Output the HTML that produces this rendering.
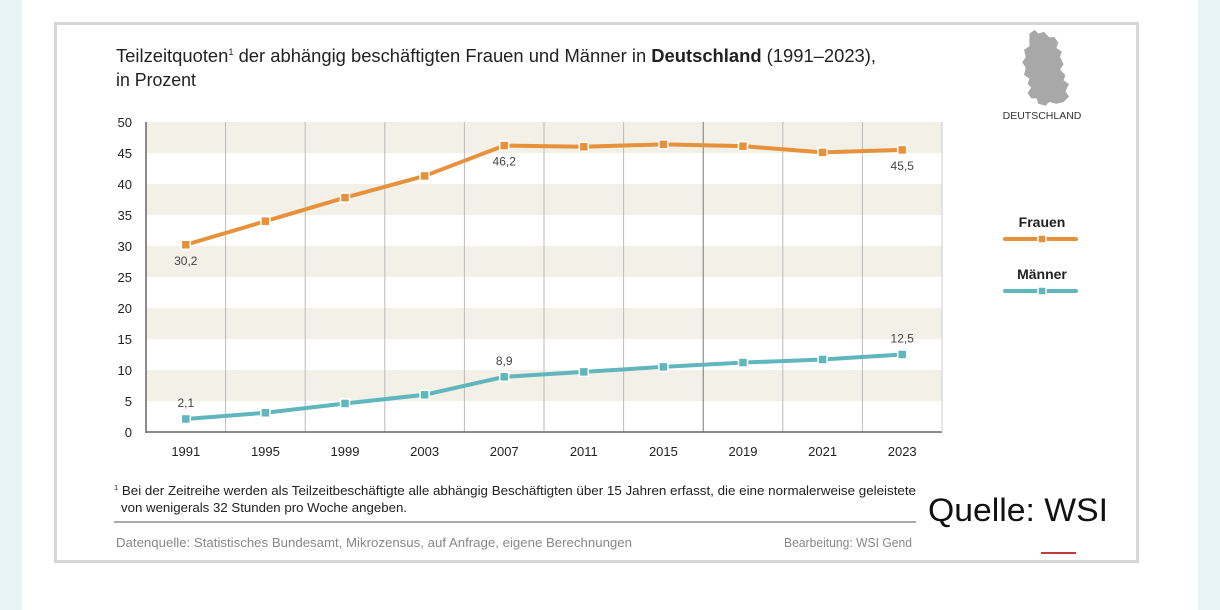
<!DOCTYPE html>
<html><head><meta charset="utf-8"><style>
html,body{margin:0;padding:0;width:1220px;height:610px;overflow:hidden;background:#fff}
svg{display:block;font-family:"Liberation Sans Narrow","Liberation Sans",sans-serif}
</style></head><body>
<svg id="c" width="1220" height="610" viewBox="0 0 1220 610">
<rect x="0" y="0" width="22" height="610" fill="#e8f3f5"/>
<rect x="1198" y="0" width="22" height="610" fill="#e8f3f5"/>
<rect x="55.5" y="23.5" width="1082" height="538" fill="#fff" stroke="#d6d6d6" stroke-width="3"/>
<text x="116" y="62" font-size="18" fill="#222" textLength="760" lengthAdjust="spacingAndGlyphs">Teilzeitquoten<tspan font-size="9" dy="-7">1</tspan><tspan dy="7"> der abhängig beschäftigten Frauen und Männer in </tspan><tspan font-weight="bold">Deutschland</tspan> (1991–2023),</text>
<text x="116" y="86" font-size="18" fill="#222" textLength="80" lengthAdjust="spacingAndGlyphs">in Prozent</text>
<g id="bands"></g><g id="grid"></g><g id="axes"></g><g id="series"></g>
<path transform="translate(1042,30) scale(0.9) translate(-1042,-30)" d="M1028,34 l6,-4 4,4 6,-2 6,6 6,0 4,6 -2,6 6,4 -2,6 4,8 -4,6 6,6 -2,6 6,4 -4,8 4,6 -6,6 -8,2 -8,-2 -4,4 -8,-2 -2,-6 -6,0 -4,-6 4,-6 -4,-4 2,-6 -6,-4 2,-8 -4,-6 4,-6 -2,-8 6,-4z" fill="#a8a8a8"/>
<text x="1042" y="119" font-size="10.5" text-anchor="middle" fill="#333">DEUTSCHLAND</text>
<text x="1042" y="227" font-size="14" font-weight="bold" text-anchor="middle" fill="#222">Frauen</text>
<line x1="1005" y1="239" x2="1076" y2="239" stroke="#e8913b" stroke-width="4" stroke-linecap="round"/>
<rect x="1038" y="235" width="8" height="8" fill="#e8913b" stroke="#fff" stroke-width="1.5"/>
<text x="1042" y="279" font-size="14" font-weight="bold" text-anchor="middle" fill="#222">Männer</text>
<line x1="1005" y1="291" x2="1076" y2="291" stroke="#5fb6bc" stroke-width="4" stroke-linecap="round"/>
<rect x="1038" y="287" width="8" height="8" fill="#5fb6bc" stroke="#fff" stroke-width="1.5"/>
<text x="114" y="495" font-size="12.5" fill="#222" textLength="802" lengthAdjust="spacingAndGlyphs"><tspan font-size="7" dy="-5">1</tspan><tspan dy="5"> Bei der Zeitreihe werden als Teilzeitbeschäftigte alle abhängig Beschäftigten über 15 Jahren erfasst, die eine normalerweise geleistete</tspan></text>
<text x="121" y="512" font-size="12.5" fill="#222" textLength="286" lengthAdjust="spacingAndGlyphs">von wenigerals 32 Stunden pro Woche angeben.</text>
<line x1="114" y1="522" x2="916" y2="522" stroke="#777" stroke-width="1.2"/>
<text x="116" y="547" font-size="12.5" fill="#888" textLength="516" lengthAdjust="spacingAndGlyphs">Datenquelle: Statistisches Bundesamt, Mikrozensus, auf Anfrage, eigene Berechnungen</text>
<text x="784" y="547" font-size="12.5" fill="#888" textLength="128" lengthAdjust="spacingAndGlyphs">Bearbeitung: WSI Gend</text>
<line x1="1041" y1="553" x2="1076" y2="553" stroke="#c0393b" stroke-width="2"/>
<rect x="916" y="485" width="200" height="50" fill="#fff"/>
<text x="928" y="521" font-size="32" fill="#111" font-family="Liberation Sans, sans-serif" textLength="180" lengthAdjust="spacingAndGlyphs">Quelle: WSI</text>
</svg>
<script>
const years=["1991","1995","1999","2003","2007","2011","2015","2019","2021","2023"];
const frauen=[30.2,34.0,37.8,41.3,46.2,46.0,46.4,46.1,45.1,45.5];
const maenner=[2.1,3.1,4.6,6.0,8.9,9.7,10.5,11.2,11.7,12.5];
const yTicks=[0,5,10,15,20,25,30,35,40,45,50];
const frauenLabels={0:"30,2",4:"46,2",9:"45,5"};
const maennerLabels={0:"2,1",4:"8,9",9:"12,5"};
const NS="http://www.w3.org/2000/svg";
const L=146,R=942,T=122,B=432;
const step=(R-L)/years.length;
const xs=i=>L+step*(i+0.5);
const ys=v=>B-(v/50)*(B-T);
function mk(tag,attrs,parent,txt){const e=document.createElementNS(NS,tag);for(const k in attrs)e.setAttribute(k,attrs[k]);if(txt!==undefined)e.textContent=txt;document.getElementById(parent).appendChild(e);return e;}
for(let i=0;i<yTicks.length-1;i+=2){
  const e=mk('rect',{x:L,y:ys(yTicks[i+2]||50)+0,width:R-L,height:ys(yTicks[i+1])-ys(yTicks[i+2]),fill:'#f2f0e7'},'bands');
  
  
}
for(let i=1;i<years.length;i++){
  const x=L+step*i;
  const e=mk('line',{x1:x,y1:T,x2:x,y2:B,stroke:i===7?'#777':'#bbb','stroke-width':1},'grid');
  
  
}
let e=mk('line',{x1:L,y1:T,x2:L,y2:B+1,stroke:'#666','stroke-width':1.5},'axes');


e=mk('line',{x1:L,y1:B,x2:R,y2:B,stroke:'#666','stroke-width':1.5},'axes');


e=mk('line',{x1:R,y1:T,x2:R,y2:B,stroke:'#ccc','stroke-width':1},'axes');


yTicks.forEach(v=>{
  const t=mk('text',{x:132,y:ys(v)+5,'font-size':13,'text-anchor':'end',fill:'#222'},'axes',String(v));
  
  
});
years.forEach((y,i)=>{
  const t=mk('text',{x:xs(i),y:456,'font-size':13,'text-anchor':'middle',fill:'#222'},'axes',y);
  
  
});
function series(vals,color,name,labels,below){
  const p=mk('polyline',{points:vals.map((v,i)=>xs(i)+','+ys(v)).join(' '),fill:'none',stroke:color,'stroke-width':4,'stroke-linejoin':'round'},'series');
  
  
  vals.forEach((v,i)=>{
    const r=mk('rect',{x:xs(i)-4.5,y:ys(v)-4.5,width:9,height:9,fill:color,stroke:'#fff','stroke-width':1.5},'series');
    
    
    if(labels[i]){
      const t=mk('text',{x:xs(i),y:below?ys(v)+20:ys(v)-12,'font-size':12,'text-anchor':'middle',fill:'#444'},'series',labels[i]);
      
      
    }
  });
}
series(frauen,'#e8913b','frauen',frauenLabels,true);
series(maenner,'#5fb6bc','maenner',maennerLabels,false);
</script>
</body></html>
